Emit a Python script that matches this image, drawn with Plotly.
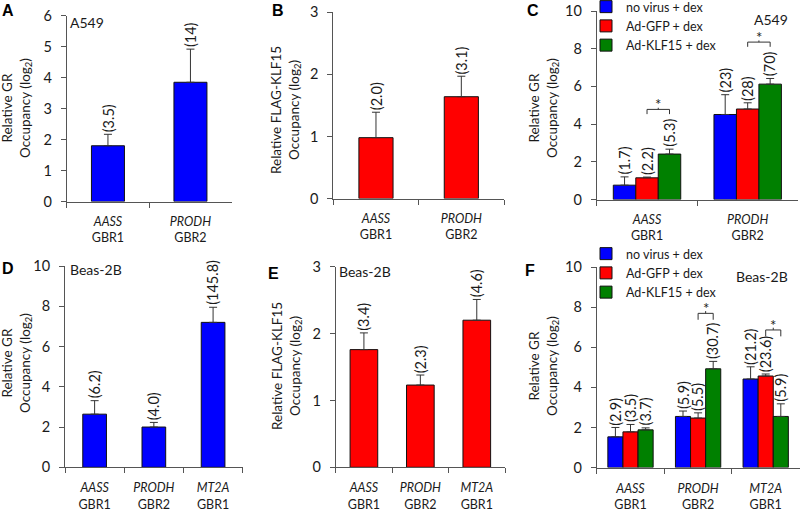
import plotly.graph_objects as go

W, H = 800, 511

# ---------------- data ----------------
cats_2 = ["<i>AASS</i><br>GBR1", "<i>PRODH</i><br>GBR2"]
cats_3 = ["<i>AASS</i><br>GBR1", "<i>PRODH</i><br>GBR2", "<i>MT2A</i><br>GBR1"]
series_names = ["no virus + dex", "Ad-GFP + dex", "Ad-KLF15 + dex"]

# Panel A (A549, GR)
a_vals = [1.80, 3.85]
a_err = [0.37, 1.07]
a_lbl = ["(3.5)", "(14)"]
# Panel B (A549, FLAG-KLF15)
b_vals = [0.98, 1.64]
b_err = [0.41, 0.33]
b_lbl = ["(2.0)", "(3.1)"]
# Panel C (A549, GR, three conditions)
c_vals = [[0.76, 4.51], [1.15, 4.80], [2.41, 6.12]]
c_err = [[0.44, 1.05], [0.04, 0.33], [0.26, 0.30]]
c_lbl = [["(1.7)", "(23)"], ["(2.2)", "(28)"], ["(5.3)", "(70)"]]
c_sig = [[0, 4.78], [1, 8.35]]
# Panel D (Beas-2B, GR)
d_vals = [2.64, 2.00, 7.20]
d_err = [0.67, 0.23, 0.75]
d_lbl = ["(6.2)", "(4.0)", "(145.8)"]
# Panel E (Beas-2B, FLAG-KLF15)
e_vals = [1.76, 1.23, 2.20]
e_err = [0.25, 0.15, 0.31]
e_lbl = ["(3.4)", "(2.3)", "(4.6)"]
# Panel F (Beas-2B, GR, three conditions)
f_vals = [[1.53, 2.55, 4.42], [1.78, 2.47, 4.57], [1.88, 4.93, 2.55]]
f_err = [[0.47, 0.27, 0.61], [0.37, 0.26, 0.10], [0.10, 0.37, 0.63]]
f_lbl = [["(2.9)", "(5.9)", "(21.2)"], ["(3.5)", "(5.5)", "(23.6)"], ["(3.7)", "(30.7)", "(5.9)"]]
f_sig = [[1, 7.70], [2, 6.87]]

# ---------------- style ----------------
FONT = "Lato, 'Open Sans', sans-serif"
TXT = "#1a1a1a"
AX = "#555555"
COLORS = ["#0000FF", "#FF0000", "#008000"]
BARGAP = 0.33
BW = (1 - BARGAP) / 3
LBL_SIZE = 14.5


def px_x(p):
    return p / W


def px_y(p):
    return 1 - p / H


# panel geometry in pixels: (x_left, x_right, y_bottom, y_top)
geom = {
    1: (66.7, 231.7, 201.5, 15.7),
    2: (333.3, 504.0, 198.5, 12.3),
    3: (596.7, 798.0, 199.5, 11.0),
    4: (65.0, 242.7, 467.3, 266.0),
    5: (335.7, 505.0, 467.3, 266.7),
    6: (596.7, 799.5, 467.5, 267.3),
}
yranges = {1: (6, 1), 2: (3, 1), 3: (10, 2), 4: (10, 2), 5: (3, 1), 6: (10, 2)}
ncats = {1: 2, 2: 2, 3: 2, 4: 3, 5: 3, 6: 3}

fig = go.Figure()
annotations = []
shapes = []

err_style = dict(type="data", symmetric=False, color="#333333", thickness=1, width=4)
line_style = dict(color="#111111", width=1)


def add_single(n, cats, vals, err, lbl, color, width):
    fig.add_trace(go.Bar(
        x=cats, y=vals, width=width, marker=dict(color=color, line=line_style),
        error_y=dict(array=err, arrayminus=[0] * len(err), **err_style),
        xaxis=f"x{n}", yaxis=f"y{n}", showlegend=False,
    ))
    for i, (v, e, t) in enumerate(zip(vals, err, lbl)):
        annotations.append(dict(x=i, y=v + e, xref=f"x{n}", yref=f"y{n}", text=t,
                                textangle=-90, showarrow=False, xanchor="center",
                                yanchor="bottom", yshift=0,
                                font=dict(size=LBL_SIZE, family=FONT, color=TXT)))


def add_group(n, cats, vals, err, lbl, legend, sig, drop):
    for s in range(3):
        fig.add_trace(go.Bar(
            x=cats, y=vals[s], name=series_names[s],
            marker=dict(color=COLORS[s], line=line_style),
            error_y=dict(array=err[s], arrayminus=[0] * len(err[s]), **err_style),
            xaxis=f"x{n}", yaxis=f"y{n}", legend=legend, showlegend=True,
        ))
        off = (s - 1) * BW
        for i, (v, e, t) in enumerate(zip(vals[s], err[s], lbl[s])):
            annotations.append(dict(x=i + off, y=v + e, xref=f"x{n}", yref=f"y{n}", text=t,
                                    textangle=-90, showarrow=False, xanchor="center",
                                    yanchor="bottom", yshift=0,
                                    font=dict(size=LBL_SIZE, family=FONT, color=TXT)))
    for idx, yv in sig:
        x0, x1 = idx, idx + BW
        xc = (x0 + x1) / 2
        ref = dict(xref=f"x{n}", yref=f"y{n}", line=dict(color="#333333", width=1))
        shapes.append(dict(type="line", x0=x0, x1=x1, y0=yv, y1=yv, **ref))
        shapes.append(dict(type="line", x0=x0, x1=x0, y0=yv, y1=yv - drop, **ref))
        shapes.append(dict(type="line", x0=x1, x1=x1, y0=yv, y1=yv - drop, **ref))
        shapes.append(dict(type="line", x0=xc, x1=xc, y0=yv, y1=yv + drop * 0.35, **ref))
        annotations.append(dict(x=xc, y=yv, xref=f"x{n}", yref=f"y{n}", text="*",
                                showarrow=False, xanchor="center", yanchor="bottom",
                                yshift=-6, font=dict(size=15, family=FONT, color=TXT)))


add_single(1, cats_2, a_vals, a_err, a_lbl, COLORS[0], 0.40)
add_single(2, cats_2, b_vals, b_err, b_lbl, COLORS[1], 0.40)
add_group(3, cats_2, c_vals, c_err, c_lbl, "legend", c_sig, 0.25)
add_single(4, cats_3, d_vals, d_err, d_lbl, COLORS[0], 0.40)
add_single(5, cats_3, e_vals, e_err, e_lbl, COLORS[1], 0.49)
add_group(6, cats_3, f_vals, f_err, f_lbl, "legend2", f_sig, 0.32)

layout_axes = {}
for n, (xl, xr, yb, yt) in geom.items():
    top, dt = yranges[n]
    standoff = 8 if n <= 3 else 9
    layout_axes[f"xaxis{n}"] = dict(
        domain=[px_x(xl), px_x(xr)], anchor=f"y{n}", type="category",
        range=[-0.5, ncats[n] - 0.5],
        showline=True, linecolor=AX, linewidth=1, ticks="outside", tickson="boundaries",
        ticklen=5, tickcolor=AX, showgrid=False, zeroline=False, fixedrange=True,
        ticklabelstandoff=standoff,
        tickfont=dict(size=12.5, family=FONT, color=TXT),
    )
    layout_axes[f"yaxis{n}"] = dict(
        domain=[px_y(yb), px_y(yt)], anchor=f"x{n}", range=[0, top], dtick=dt,
        showline=True, linecolor=AX, linewidth=1, ticks="outside", ticklen=5,
        tickcolor=AX, showgrid=False, zeroline=False, ticklabelstandoff=6,
        fixedrange=True, tickfont=dict(size=14.5, family=FONT, color=TXT),
    )

# y-axis titles
ytitles = {
    1: ("Relative GR<br>Occupancy (log<sub>2</sub>)", 16, 108),
    2: ("Relative FLAG-KLF15<br>Occupancy (log<sub>2</sub>)", 285, 110),
    3: ("Relative GR<br>Occupancy (log<sub>2</sub>)", 543, 108),
    4: ("Relative GR<br>Occupancy (log<sub>2</sub>)", 16, 363),
    5: ("Relative FLAG-KLF15<br>Occupancy (log<sub>2</sub>)", 286, 366),
    6: ("Relative GR<br>Occupancy (log<sub>2</sub>)", 543, 366),
}
for n, (t, xc, yc) in ytitles.items():
    annotations.append(dict(x=px_x(xc), y=px_y(yc), xref="paper", yref="paper", text=t,
                            textangle=-90, showarrow=False, xanchor="center", yanchor="middle",
                            font=dict(size=13.5, family=FONT, color=TXT)))

# panel letters
letters = {"A": (8, 10), "B": (278, 10), "C": (533, 10), "D": (8, 268), "E": (273, 273), "F": (530, 270)}
for t, (xc, yc) in letters.items():
    annotations.append(dict(x=px_x(xc), y=px_y(yc), xref="paper", yref="paper", text=f"<b>{t}</b>",
                            showarrow=False, xanchor="center", yanchor="middle",
                            font=dict(size=16, family="Liberation Sans, Arial, sans-serif", color="#000")))

# cell line labels
cells = [("A549", 68, 22, "left"), ("A549", 790, 19, "right"), ("Beas-2B", 68, 269, "left"),
         ("Beas-2B", 337, 271, "left"), ("Beas-2B", 790, 276, "right")]
for t, xp, yp, anc in cells:
    annotations.append(dict(x=px_x(xp), y=px_y(yp), xref="paper", yref="paper", text=t,
                            showarrow=False, xanchor=anc, yanchor="middle",
                            font=dict(size=14, family=FONT, color=TXT)))

legend_common = dict(xanchor="left", yanchor="top", bgcolor="rgba(0,0,0,0)", borderwidth=0,
                     tracegroupgap=0, itemwidth=30, font=dict(size=12.5, family=FONT, color=TXT))

fig.update_layout(
    width=W, height=H, template="none",
    margin=dict(l=0, r=0, t=0, b=0, autoexpand=False),
    paper_bgcolor="white", plot_bgcolor="rgba(0,0,0,0)",
    barmode="group", bargap=BARGAP, bargroupgap=0,
    font=dict(family=FONT, color=TXT),
    annotations=annotations, shapes=shapes,
    legend=dict(x=px_x(586), y=px_y(-8), **legend_common),
    legend2=dict(x=px_x(586), y=px_y(239), **legend_common),
    **layout_axes,
)

fig.write_html("out.html", config={"displayModeBar": False},
               post_script="document.body.style.margin='0px';")
